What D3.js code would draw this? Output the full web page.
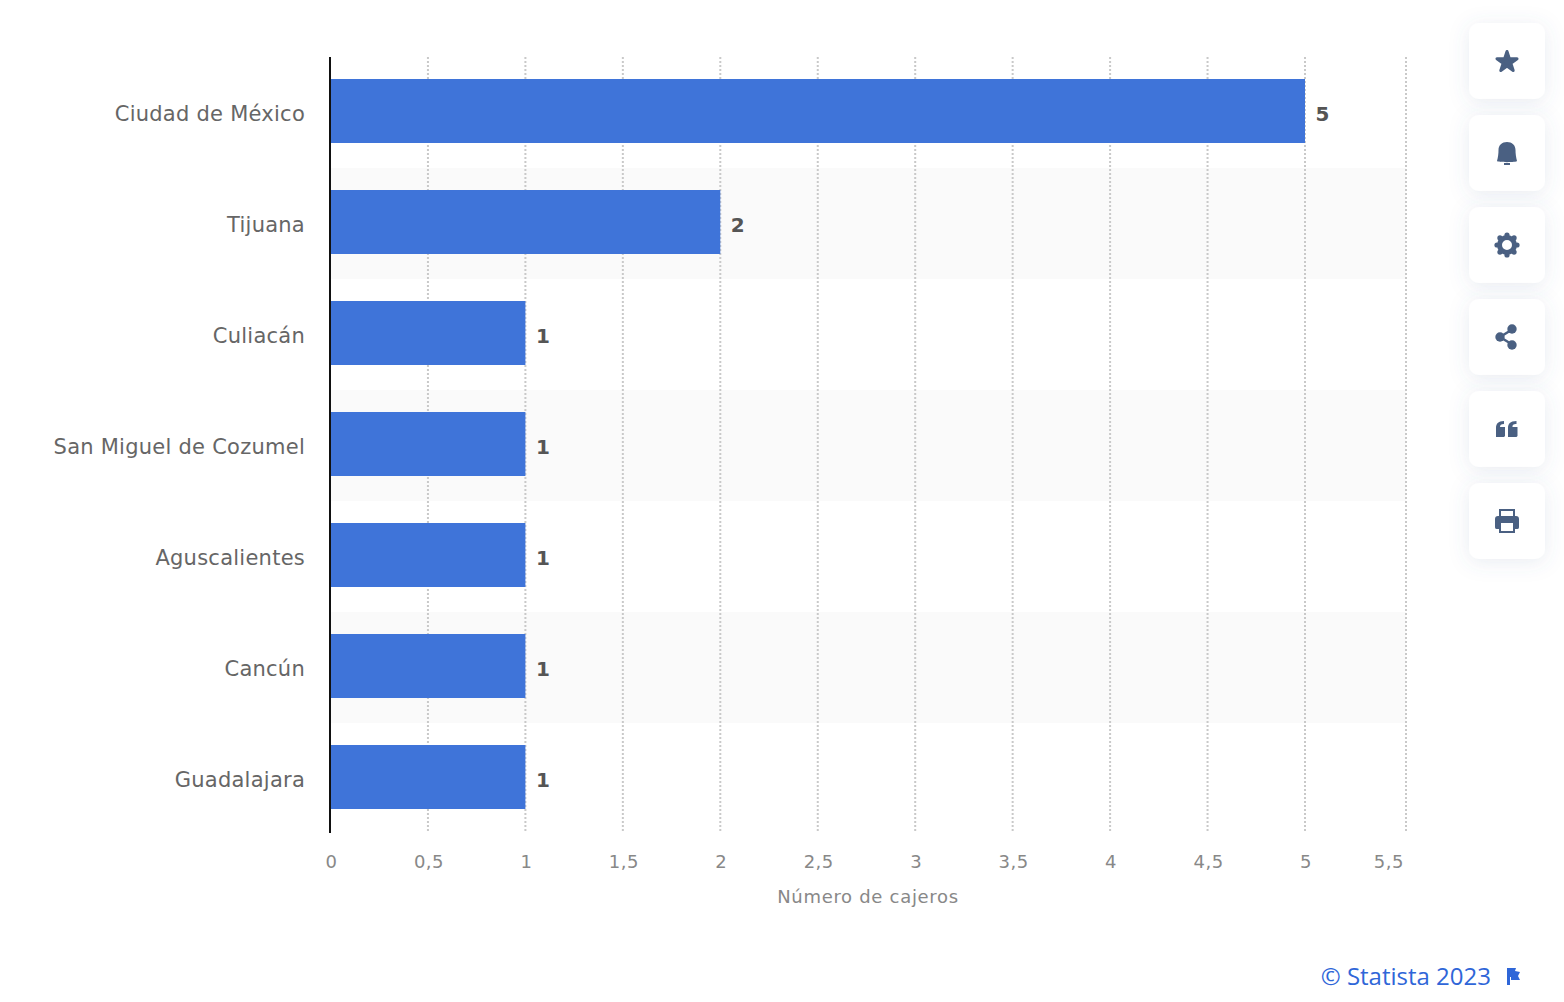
<!DOCTYPE html>
<html lang="es">
<head>
<meta charset="utf-8">
<title>Número de cajeros</title>
<script src="https://cdn.jsdelivr.net/npm/d3@7"></script>
<style>
  html, body { margin: 0; padding: 0; background: #fff; }
  svg { display: block; font-family: "DejaVu Sans", sans-serif; }
</style>
</head>
<body>
<svg id="chart"></svg>
<script>
const cities = ["Ciudad de México", "Tijuana", "Culiacán", "San Miguel de Cozumel", "Aguscalientes", "Cancún", "Guadalajara"];
const cashiers = [5, 2, 1, 1, 1, 1, 1];
const tickValues = [0, 0.5, 1, 1.5, 2, 2.5, 3, 3.5, 4, 4.5, 5, 5.5];
const axisTitle = "Número de cajeros";
const credit = "© Statista 2023";
const buttons = ["star", "bell", "gear", "share", "quote", "print"];

const width = 1564;
const height = 1002;

const svg = d3.select("#chart").attr("width", width).attr("height", height);

// last gridline sits a little further out than the regular step
const x = d3.scaleLinear().domain([0, 5, 5.5]).range([330.5, 1305, 1406]);
const y = d3.scaleBand().domain(cities).range([57, 834]);
const barInset = 22;
const barHeight = 64;

const defs = svg.append("defs");
defs.append("filter")
    .attr("id", "soft")
    .attr("x", "-60%").attr("y", "-60%").attr("width", "220%").attr("height", "220%")
    .append("feDropShadow")
    .attr("dx", 0).attr("dy", 3).attr("stdDeviation", 10)
    .attr("flood-color", "#5a6e96").attr("flood-opacity", 0.13);

// zebra rows
svg.append("g")
    .selectAll("rect")
    .data(cities.filter((d, i) => i % 2 === 1))
    .join("rect")
    .attr("x", x(0))
    .attr("y", d => y(d))
    .attr("width", x(5.5) - x(0))
    .attr("height", y.step())
    .attr("fill", "#fafafa");

// dotted gridlines
svg.append("g")
    .selectAll("line")
    .data(tickValues.slice(1))
    .join("line")
    .attr("x1", d => x(d))
    .attr("x2", d => x(d))
    .attr("y1", 57)
    .attr("y2", 833)
    .attr("stroke", "#c9c9c9")
    .attr("stroke-width", 2)
    .attr("stroke-dasharray", "2 2");

// bars
svg.append("g")
    .selectAll("rect")
    .data(cities)
    .join("rect")
    .attr("x", x(0))
    .attr("y", d => y(d) + barInset)
    .attr("width", (d, i) => x(cashiers[i]) - x(0))
    .attr("height", barHeight)
    .attr("fill", "#3f74d9");

// values next to the bars
svg.append("g")
    .selectAll("text")
    .data(cities)
    .join("text")
    .attr("x", (d, i) => x(cashiers[i]) + 10.5)
    .attr("y", d => y(d) + barInset + barHeight / 2 + 9.5)
    .attr("font-size", 20)
    .attr("font-weight", 700)
    .attr("fill", "#555")
    .text((d, i) => cashiers[i]);

// city labels
svg.append("g")
    .selectAll("text")
    .data(cities)
    .join("text")
    .attr("x", 305)
    .attr("y", d => y(d) + barInset + barHeight / 2 + 10)
    .attr("text-anchor", "end")
    .attr("font-size", 21)
    .attr("letter-spacing", 0.25)
    .attr("fill", "#666")
    .text(d => d);

// baseline
svg.append("line")
    .attr("x1", 330).attr("x2", 330)
    .attr("y1", 57).attr("y2", 833)
    .attr("stroke", "#111")
    .attr("stroke-width", 2);

// x tick labels, the last one is pulled back inside the plot
svg.append("g")
    .selectAll("text")
    .data(tickValues)
    .join("text")
    .attr("x", d => d === 5.5 ? x(d) - 2 : x(d) + 1)
    .attr("y", 868)
    .attr("text-anchor", d => d === 5.5 ? "end" : "middle")
    .attr("font-size", 18)
    .attr("letter-spacing", 0.5)
    .attr("fill", "#888")
    .text(d => String(d).replace(".", ","));

svg.append("text")
    .attr("x", 868)
    .attr("y", 903)
    .attr("text-anchor", "middle")
    .attr("font-size", 18)
    .attr("letter-spacing", 0.7)
    .attr("fill", "#888")
    .text(axisTitle);

// credit + flag
svg.append("text")
    .attr("x", 1491)
    .attr("y", 985)
    .attr("text-anchor", "end")
    .attr("font-family", "'Open Sans', sans-serif")
    .attr("font-size", 24)
    .attr("fill", "#2f66d8")
    .text(credit);

svg.append("path")
    .attr("transform", "translate(1507,968)")
    .attr("d", "M0 0H9L8 3L13 4L11 8L13 12H4V9H3V17H0Z")
    .attr("fill", "#2f66d8");

// side buttons
const iconColor = "#4a6082";
const icons = {
  star: g => g.append("path")
      .attr("d", d3.symbol(d3.symbolStar, 125)())
      .attr("transform", "translate(0,1)")
      .attr("fill", iconColor)
      .attr("stroke", iconColor).attr("stroke-width", 3).attr("stroke-linejoin", "round"),
  bell: g => {
    g.append("path")
        .attr("d", "M-10 8C-9 4-8.5 1-8.5-3C-8.5-8-5-11 0-11S8.5-8 8.5-3C8.5 1 9 4 10 8C10 9.5-10 9.5-10 8Z")
        .attr("fill", iconColor);
    g.append("rect").attr("x", -3).attr("y", 10).attr("width", 6).attr("height", 2).attr("fill", iconColor);
  },
  gear: g => {
    g.selectAll("circle.tooth").data(d3.range(8)).join("circle")
        .attr("cx", d => 10 * Math.cos(d * Math.PI / 4 + Math.PI / 2))
        .attr("cy", d => 10 * Math.sin(d * Math.PI / 4 + Math.PI / 2))
        .attr("r", 2.6)
        .attr("fill", iconColor);
    g.append("circle").attr("r", 7.5).attr("fill", "none").attr("stroke", iconColor).attr("stroke-width", 5);
  },
  share: g => {
    g.append("path")
        .attr("d", "M6-8L-7 0L6 8")
        .attr("fill", "none").attr("stroke", iconColor).attr("stroke-width", 2.5);
    [[5, -8], [-7, 0], [5, 8]].forEach(p => {
      g.append("circle").attr("cx", p[0]).attr("cy", p[1]).attr("r", 4.7).attr("fill", iconColor);
    });
  },
  quote: g => {
    ["M-11 8V-1C-11-5-9-8-3-8V-5C-6-5-7-4-7-2H-2V7L-3 8Z", "M1 8V-1C1-5 3-8 9.5-8V-5C6-5 5.5-4 5.5-2H10.5V7L9.5 8Z"].forEach(d => {
      g.append("path").attr("d", d).attr("fill", iconColor);
    });
  },
  print: g => {
    g.append("path")
        .attr("d", "M-12-2C-12-4-11-5-9-5H-8V-12H8V-5H9C11-5 12-4 12-2V6C12 8 11 8 9 8H8V12H-8V8H-9C-11 8-12 8-12 6Z")
        .attr("fill", iconColor);
    g.append("rect").attr("x", -6).attr("y", -10).attr("width", 12).attr("height", 5).attr("fill", "#fff");
    g.append("rect").attr("x", -6).attr("y", 2).attr("width", 12).attr("height", 8).attr("fill", "#fff");
  }
};

const buttonY = d3.scalePoint().domain(buttons).range([61, 521]);

const button = svg.append("g")
    .selectAll("g")
    .data(buttons)
    .join("g")
    .attr("transform", d => `translate(1507,${buttonY(d)})`);

button.append("rect")
    .attr("x", -38).attr("y", -38)
    .attr("width", 76).attr("height", 76)
    .attr("rx", 10)
    .attr("fill", "#fff")
    .attr("filter", "url(#soft)");

button.each(function (d) { icons[d](d3.select(this)); });
</script>
</body>
</html>
